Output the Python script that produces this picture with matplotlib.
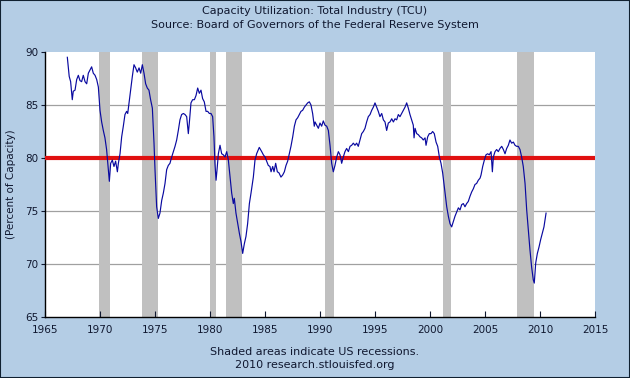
import matplotlib
matplotlib.use("Agg")
import matplotlib.pyplot as plt

years = [
 1967.03,1967.2,1967.33,1967.48,1967.57,1967.73,1967.88,1968.03,1968.18,1968.33,1968.48,1968.64,1968.79,1968.94,
 1969.24,1969.39,1969.55,1969.7,1969.85,1970.0,1970.15,1970.3,1970.45,1970.6,1970.76,1970.85,1970.97,1971.12,
 1971.27,1971.42,1971.58,1971.67,1971.82,1971.97,1972.12,1972.27,1972.42,1972.52,1972.64,1972.79,1972.94,1973.09,
 1973.24,1973.39,1973.55,1973.7,1973.85,1974.0,1974.15,1974.3,1974.45,1974.6,1974.76,1974.91,1975.0,1975.15,1975.3,
 1975.45,1975.61,1975.76,1975.91,1976.06,1976.21,1976.36,1976.52,1976.67,1976.82,1976.97,1977.12,1977.27,1977.42,
 1977.58,1977.73,1977.88,1978.03,1978.12,1978.27,1978.42,1978.58,1978.73,1978.88,1979.03,1979.18,1979.33,1979.48,
 1979.64,1979.79,1979.94,1980.09,1980.24,1980.36,1980.45,1980.55,1980.64,1980.76,1980.91,1981.06,1981.21,1981.36,
 1981.52,1981.67,1981.82,1981.97,1982.12,1982.21,1982.36,1982.52,1982.67,1982.82,1982.97,1983.12,1983.27,1983.42,
 1983.58,1983.73,1983.94,1984.09,1984.24,1984.48,1984.7,1984.85,1985.0,1985.15,1985.3,1985.45,1985.55,1985.7,
 1985.82,1985.97,1986.12,1986.27,1986.45,1986.61,1986.76,1986.91,1987.06,1987.21,1987.36,1987.52,1987.67,1987.82,
 1987.97,1988.12,1988.27,1988.42,1988.58,1988.73,1988.88,1989.03,1989.18,1989.33,1989.48,1989.55,1989.7,1989.85,
 1990.0,1990.15,1990.3,1990.45,1990.61,1990.76,1990.91,1991.06,1991.21,1991.36,1991.52,1991.67,1991.82,1991.97,
 1992.12,1992.27,1992.42,1992.58,1992.73,1992.88,1993.03,1993.18,1993.33,1993.48,1993.64,1993.79,1993.94,1994.09,
 1994.24,1994.39,1994.55,1994.7,1994.85,1995.0,1995.15,1995.3,1995.45,1995.61,1995.76,1995.91,1996.06,1996.21,
 1996.36,1996.52,1996.67,1996.82,1996.97,1997.12,1997.27,1997.42,1997.58,1997.73,1997.88,1998.03,1998.18,1998.33,
 1998.48,1998.55,1998.64,1998.79,1998.94,1999.09,1999.24,1999.39,1999.55,1999.64,1999.79,1999.94,2000.09,2000.24,
 2000.39,2000.55,2000.7,2000.85,2001.0,2001.15,2001.3,2001.36,2001.52,2001.67,2001.82,2001.97,2002.12,2002.27,
 2002.42,2002.58,2002.73,2002.88,2003.03,2003.18,2003.33,2003.48,2003.64,2003.79,2003.94,2004.09,2004.24,2004.39,
 2004.55,2004.64,2004.79,2004.94,2005.09,2005.24,2005.39,2005.55,2005.67,2005.76,2005.91,2006.06,2006.21,2006.36,
 2006.52,2006.67,2006.82,2006.97,2007.12,2007.27,2007.42,2007.58,2007.73,2007.88,2008.03,2008.18,2008.33,2008.48,
 2008.64,2008.79,2008.94,2009.09,2009.24,2009.39,2009.48,2009.61,2009.76,2009.91,2010.06,2010.21,2010.36,2010.55]

capacity = [
 89.5,87.7,87.2,85.5,86.3,86.4,87.4,87.8,87.3,87.2,87.8,87.2,87.0,88.0,
 88.6,88.0,87.8,87.4,86.7,84.5,83.4,82.6,81.9,80.8,78.9,77.8,79.5,79.8,
 79.2,79.7,78.7,79.5,80.4,82.0,83.0,84.1,84.4,84.2,85.2,86.4,87.7,88.8,
 88.5,88.1,88.5,88.0,88.8,88.0,87.0,86.6,86.4,85.5,84.7,81.4,78.9,75.4,74.3,
 74.8,76.0,76.7,77.6,78.9,79.3,79.5,80.1,80.6,81.1,81.7,82.6,83.6,84.1,
 84.2,84.1,83.9,82.3,83.3,85.2,85.5,85.5,85.9,86.6,86.1,86.4,85.6,85.3,
 84.4,84.4,84.2,84.2,83.9,82.0,79.5,77.9,78.9,80.4,81.2,80.4,80.3,80.1,
 80.6,79.8,78.2,76.7,75.7,76.2,74.8,73.8,72.9,72.1,71.0,71.9,72.6,73.8,
 75.7,76.7,78.2,79.8,80.4,81.0,80.6,80.3,80.1,79.7,79.3,79.2,78.7,79.2,
 78.7,79.5,78.7,78.6,78.2,78.4,78.7,79.3,79.7,80.4,81.1,82.0,83.0,83.6,
 83.8,84.1,84.4,84.5,84.8,85.0,85.2,85.3,85.0,84.2,83.0,83.4,83.1,82.8,
 83.3,83.0,83.5,83.1,83.0,82.6,81.2,79.5,78.7,79.3,80.1,80.6,80.3,79.5,
 80.1,80.6,80.9,80.6,81.1,81.2,81.4,81.2,81.4,81.1,81.7,82.3,82.5,82.8,
 83.4,83.9,84.1,84.5,84.8,85.2,84.8,84.4,83.9,84.2,83.6,83.4,82.6,83.3,
 83.4,83.7,83.4,83.7,83.6,84.1,83.9,84.2,84.5,84.8,85.2,84.7,84.1,83.6,
 83.1,81.9,82.8,82.3,82.2,82.0,81.9,81.7,81.9,81.2,82.0,82.3,82.3,82.5,
 82.3,81.5,81.1,80.1,79.5,78.6,77.3,76.7,75.4,74.5,73.8,73.5,74.0,74.5,
 74.9,75.3,75.1,75.6,75.7,75.4,75.7,75.9,76.4,76.8,77.1,77.5,77.6,77.9,
 78.1,78.4,79.2,79.8,80.3,80.4,80.3,80.6,78.7,80.1,80.6,80.8,80.6,80.9,
 81.1,80.8,80.4,80.9,81.2,81.7,81.4,81.5,81.2,81.1,81.1,80.8,80.1,79.2,
 77.6,75.1,73.2,71.3,69.7,68.5,68.2,70.1,71.0,71.6,72.3,72.9,73.5,74.8]

recessions = [(1969.92, 1970.92), (1973.83, 1975.25), (1980.0, 1980.55),
              (1981.5, 1982.9), (1990.5, 1991.25), (2001.17, 2001.9),
              (2007.9, 2009.5)]
reference_level = 80
x_ticks = list(range(1965, 2016, 5))
y_ticks = [65, 70, 75, 80, 85, 90]

bg = "#B4CDE5"
txt = "#101830"
fig = plt.figure(figsize=(6.3, 3.78), dpi=100, facecolor=bg)
fig.patches.append(plt.Rectangle((0, 0), 1, 1, transform=fig.transFigure,
                                 fill=False, edgecolor="#102030", linewidth=1.5))
ax = fig.add_axes([45/630, 1-317/378, 550/630, 265/378])
ax.set_facecolor("white")
for a, b in recessions:
    ax.axvspan(a, b, color="#C0C0C0", lw=0, zorder=1)
for yv in [70, 75, 80, 85]:
    ax.axhline(yv, color="#A0A0A0", lw=0.9, zorder=0.5)
ax.axhline(reference_level, color="#E01010", lw=3.0, zorder=3)
ax.plot(years, capacity, color="#0A0AA0", lw=0.85, zorder=4)

ax.set_xlim(1965, 2015)
ax.set_ylim(65, 90)
ax.set_xticks(x_ticks)
ax.set_yticks(y_ticks)
ax.tick_params(axis="x", direction="in", length=4, labelsize=7.5, pad=6, colors=txt)
ax.tick_params(axis="y", direction="out", length=3, labelsize=7.5, pad=2, colors=txt)
for s in ["top", "right"]:
    ax.spines[s].set_visible(False)
for s in ["left", "bottom"]:
    ax.spines[s].set_color("black")
    ax.spines[s].set_linewidth(1.0)
ax.set_ylabel("(Percent of Capacity)", fontsize=7.5, color=txt, labelpad=6)

fig.text(0.5, 1-11/378, "Capacity Utilization: Total Industry (TCU)", ha="center", va="center",
         fontsize=8, color=txt)
fig.text(0.5, 1-25/378, "Source: Board of Governors of the Federal Reserve System", ha="center",
         va="center", fontsize=8, color=txt)
fig.text(0.5, 1-352/378, "Shaded areas indicate US recessions.", ha="center", va="center",
         fontsize=8, color=txt)
fig.text(0.5, 1-365/378, "2010 research.stlouisfed.org", ha="center", va="center",
         fontsize=8, color=txt)

fig.savefig("out.png", dpi=100, facecolor=bg)
